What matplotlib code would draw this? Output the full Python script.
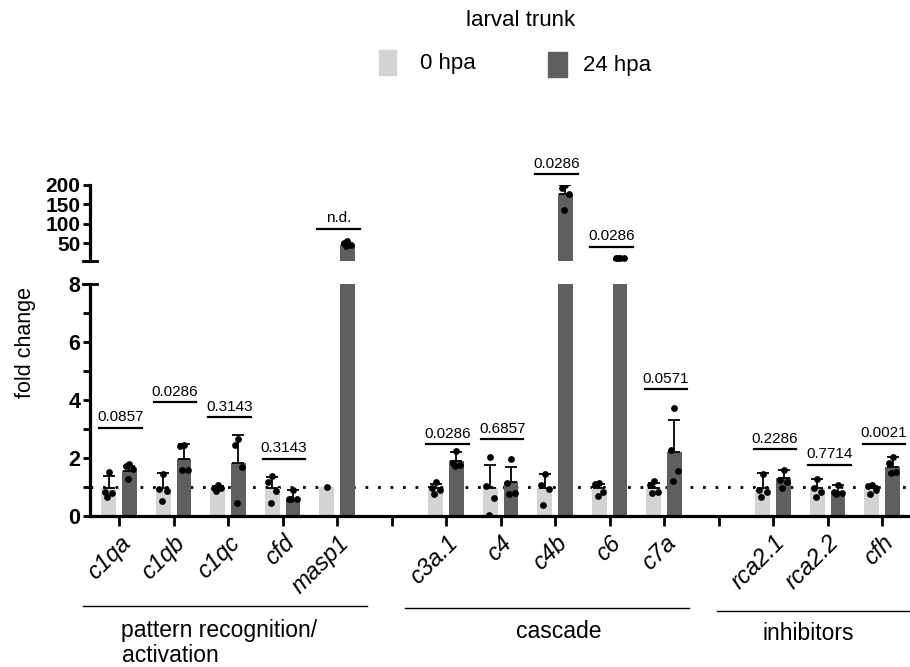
import matplotlib
matplotlib.use('Agg')
import matplotlib.pyplot as plt
from matplotlib.patches import Rectangle
from matplotlib.lines import Line2D
import numpy as np

plt.rcParams['font.family'] = ['Liberation Sans', 'DejaVu Sans']

# ---------------- data ----------------
genes = ['c1qa', 'c1qb', 'c1qc', 'cfd', 'masp1',
         'c3a.1', 'c4', 'c4b', 'c6', 'c7a',
         'rca2.1', 'rca2.2', 'cfh']
slots = [0, 1, 2, 3, 4, 6, 7, 8, 9, 10, 12, 13, 14]
n_slots = 15

mean_0 = [0.98, 0.95, 0.97, 0.96, 1.0, 0.95, 0.95, 0.95, 0.95, 0.95, 0.97, 0.96, 0.95]
top_0 = [1.38, 1.47, 1.05, 1.36, 1.0, 1.12, 1.77, 1.45, 1.12, 1.15, 1.47, 1.26, 1.02]
pts_0 = [[1.52, 0.83, 0.78, 0.65],
         [1.46, 0.93, 0.85, 0.53],
         [1.07, 0.96, 0.95, 0.85],
         [1.38, 1.18, 0.85, 0.46],
         [1.0],
         [1.18, 0.95, 0.90, 0.76],
         [2.05, 1.03, 0.63, 0.03],
         [1.46, 1.07, 0.93, 0.38],
         [1.13, 1.10, 0.84, 0.70],
         [1.22, 1.07, 0.84, 0.78],
         [1.45, 0.90, 0.84, 0.67],
         [1.27, 0.96, 0.84, 0.67],
         [1.07, 1.02, 0.90, 0.76]]

mean_24 = [1.55, 1.97, 1.82, 0.60, 45, 1.90, 1.16, 176, 11.8, 2.20, 1.30, 0.83, 1.70]
top_24 = [1.72, 2.50, 2.80, 0.90, 52, 2.20, 1.70, 200, 12.5, 3.30, 1.59, 1.06, 2.02]
pts_24 = [[1.78, 1.72, 1.62, 1.27],
          [2.45, 2.40, 1.57, 1.57],
          [2.65, 2.45, 1.68, 0.46],
          [0.90, 0.58, 0.57, 0.57],
          [56, 50, 45, 44],
          [2.23, 1.83, 1.77, 1.73],
          [1.98, 1.13, 0.81, 0.76],
          [199, 192, 176, 136],
          [12.5, 12.0, 11.5, 11.0],
          [3.74, 2.29, 1.54, 1.19],
          [1.57, 1.25, 1.17, 0.96],
          [1.07, 0.84, 0.78, 0.76],
          [2.03, 1.83, 1.53, 1.48]]

pvals = ['0.0857', '0.0286', '0.3143', '0.3143', 'n.d.',
         '0.0286', '0.6857', '0.0286', '0.0286', '0.0571',
         '0.2286', '0.7714', '0.0021']
p_y = [3.05, 3.92, 3.40, 1.97, 87, 2.47, 2.64, 228, 41, 4.38, 2.30, 1.77, 2.49]

low_ticks = [0, 2, 4, 6, 8]
low_minor = [1, 3, 5, 7]
up_ticks = [50, 100, 150, 200]
up_bottom = 4.5

groups = ['pattern recognition/', 'cascade', 'inhibitors']
legend_labels = ['0 hpa', '24 hpa']
legend_title = 'larval trunk'

# ---------------- style ----------------
light = '#d3d3d3'
dark = '#5f5f5f'
W, H = 910, 667
bw = 0.27
off = 0.19
jit = [0.0, -0.07, 0.07, -0.03]

fig = plt.figure(figsize=(W / 100, H / 100), dpi=100)
ax = fig.add_axes([90 / W, 1 - 516 / H, 820 / W, 232 / H])
axu = fig.add_axes([90 / W, 1 - 261 / H, 820 / W, 76 / H])

xl = (-0.532, 14.51)
for a, lo in ((ax, -1), (axu, 8)):
    a.set_xlim(*xl)
    for i, s in enumerate(slots):
        for m, t, p, dx, c in ((mean_0[i], top_0[i], pts_0[i], -off, light),
                               (mean_24[i], top_24[i], pts_24[i], off, dark)):
            if m <= lo:
                continue
            x = s + dx
            a.bar(x, m, width=bw, color=c, zorder=2)
            if t > m:
                a.errorbar(x, m, yerr=[[0], [t - m]], fmt='none', ecolor='k',
                           elinewidth=1.3, capsize=4, capthick=1.3, zorder=3)
            xs = [x + jit[k % 4] for k in range(len(p))]
            a.scatter(xs, p, s=24, color='k', zorder=4, linewidths=0)

ax.set_ylim(0, 8)
axu.set_ylim(up_bottom, 200)

# dotted reference line
ax.axhline(1, color='k', ls=(0, (1, 3.5)), lw=2.0, zorder=1)

# p-value brackets
for i, s in enumerate(slots):
    a = axu if p_y[i] > 8 else ax
    a.plot([s - 0.36, s + 0.42], [p_y[i], p_y[i]], color='k', lw=1.6,
           clip_on=False, zorder=5)
    a.annotate(pvals[i], (s + 0.03, p_y[i]), xytext=(0, 2.5),
               textcoords='offset points', ha='center', va='bottom',
               fontsize=11, annotation_clip=False)

# axes styling
for a in (ax, axu):
    for sp in ('top', 'right'):
        a.spines[sp].set_visible(False)
    a.spines['left'].set_linewidth(2.3)
    a.tick_params(axis='y', which='both', width=2, length=5, labelsize=15, pad=2)

ax.spines['bottom'].set_linewidth(2.3)
ax.set_yticks(low_ticks)
ax.set_yticklabels([str(t) for t in low_ticks], fontweight='bold', fontsize=15.5)
ax.set_yticks(low_minor, minor=True)
ax.tick_params(axis='y', which='minor', width=2, length=5)

xt_labels = [''] * n_slots
for g, s in zip(genes, slots):
    xt_labels[s] = g
ax.set_xticks(range(n_slots))
ax.set_xticklabels(xt_labels, rotation=45, ha='right', va='top',
                   rotation_mode='anchor', fontstyle='italic', fontsize=17)
ax.tick_params(axis='x', width=2, length=7, pad=4)

axu.spines['bottom'].set_visible(False)
axu.set_xticks([])
axu.set_yticks([up_bottom] + up_ticks)
axu.set_yticklabels([''] + [str(t) for t in up_ticks], fontweight='bold', fontsize=15)
axu.tick_params(axis='y', width=2, length=5, pad=2)

# spine end caps (break marks)
for a, yv in ((axu, up_bottom), (ax, 8)):
    a.plot([-0.008, 0.008], [yv, yv], color='k', lw=2,
           transform=a.get_yaxis_transform(), clip_on=False)

fig.text(25 / W, 1 - 343 / H, 'fold change', rotation=90, ha='center',
         va='center', fontsize=15.5)

# group brackets
for (x0, x1, yy) in ((82.7, 366.7, 605.7), (405, 689, 608.3), (717, 910, 611)):
    fig.add_artist(Line2D([x0 / W, x1 / W], [1 - yy / H, 1 - yy / H],
                          color='k', lw=1.0))
fig.text(219.5 / W, 1 - 630 / H, groups[0], ha='center', va='center', fontsize=16.5)
fig.text(121.7 / W, 1 - 655 / H, 'activation', ha='left', va='center', fontsize=16.5)
fig.text(558.5 / W, 1 - 632 / H, groups[1], ha='center', va='center', fontsize=16.5)
fig.text(808 / W, 1 - 634 / H, groups[2], ha='center', va='center', fontsize=16.5)

# legend
fig.text(521 / W, 1 - 21 / H, legend_title, ha='center', va='center', fontsize=16)
fig.add_artist(Rectangle((379 / W, 1 - 75 / H), 17 / W, 25 / H, color=light))
fig.add_artist(Rectangle((548 / W, 1 - 77 / H), 19 / W, 25 / H, color=dark))
fig.text(420 / W, 1 - 64 / H, legend_labels[0], ha='left', va='center', fontsize=16)
fig.text(583 / W, 1 - 65 / H, legend_labels[1], ha='left', va='center', fontsize=16)

fig.savefig('out.png', dpi=100)
